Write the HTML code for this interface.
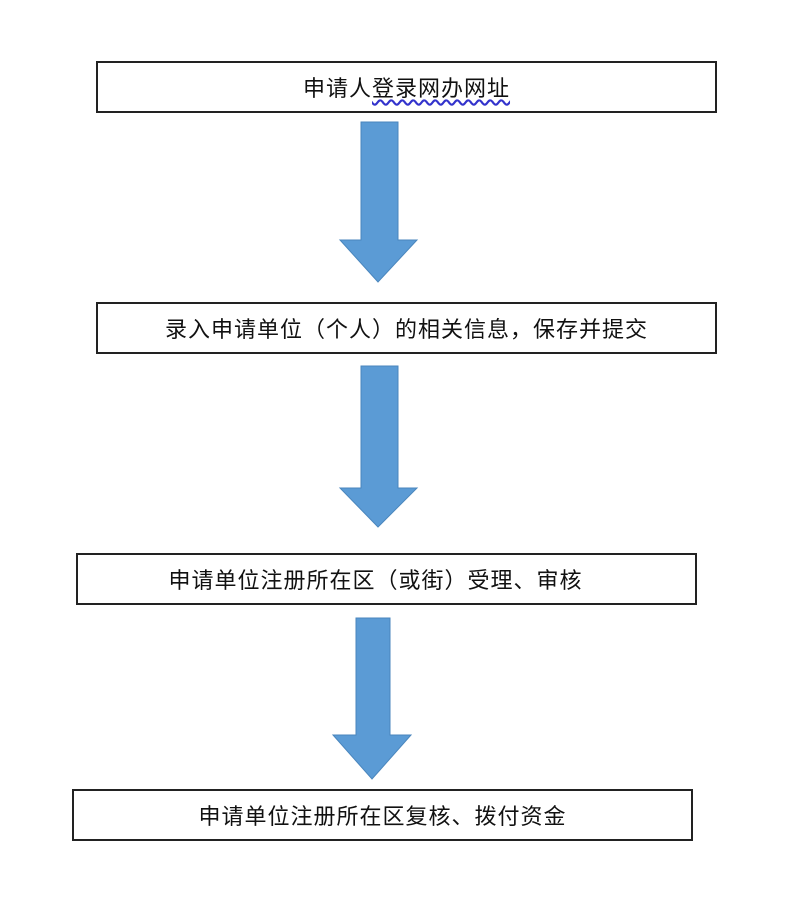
<!DOCTYPE html>
<html><head><meta charset="utf-8"><style>
body{margin:0;width:812px;height:907px;background:#fff;position:relative;overflow:hidden;font-family:"Liberation Sans","Noto Sans CJK SC",sans-serif;}
.b{position:absolute;border:2px solid #222;box-sizing:border-box;background:#fff;display:flex;align-items:center;justify-content:center;font-size:22px;letter-spacing:1px;color:#111;}
svg{position:absolute;left:0;top:0;}
</style></head><body>
<svg width="812" height="907">
<g fill="#5b9bd5" stroke="#4a86bd" stroke-width="1">
<polygon points="361,122 398,122 398,240 417,240 378,282 340,240 361,240"/>
<polygon points="361,366 398,366 398,488 417,488 378,527 340,488 361,488"/>
<polygon points="356,618 390,618 390,735 411,735 372,779 333,735 356,735"/>
</g>
</svg>
<div class="b" style="left:96px;top:61px;width:621px;height:52px;">申请人<span style="text-decoration:underline wavy #33c;text-underline-offset:3px;">登录网办网址</span></div>
<div class="b" style="left:96px;top:302px;width:621px;height:52px;">录入申请单位（个人）的相关信息，保存并提交</div>
<div class="b" style="left:76px;top:553px;width:621px;height:52px;padding-right:22px;">申请单位注册所在区（或街）受理、审核</div>
<div class="b" style="left:72px;top:789px;width:621px;height:52px;">申请单位注册所在区复核、拨付资金</div>
</body></html>
